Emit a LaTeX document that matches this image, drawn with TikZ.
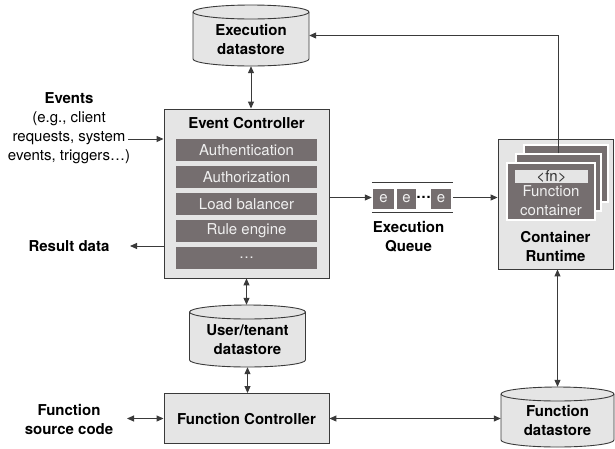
\documentclass[tikz,border=0pt]{standalone}
\usepackage{fontspec}
\setmainfont{TeX Gyre Heros}
\usetikzlibrary{arrows.meta,calc}
\definecolor{lightfill}{HTML}{E5E5E5}
\definecolor{darkbar}{HTML}{756E6F}
\definecolor{bartext}{HTML}{F0F0F0}
\definecolor{linegray}{HTML}{3A3A3A}
\newcommand\dbcyl[6]{%
 \draw[cylline] ({#2-#4},{#3-#5+7}) -- ({#2-#4},{#3+#5-7}) arc[start angle=180,end angle=360,x radius=#4pt,y radius=7pt] -- ({#2+#4},{#3-#5+7}) arc[start angle=0,end angle=180,x radius=#4pt,y radius=7pt] -- cycle;
 \draw[cylline, fill=none] ({#2-#4},{#3-#5+7}) arc[start angle=180,end angle=360,x radius=#4pt,y radius=7pt];
 \node[minimum width={2*#4}, minimum height={2*#5}, inner sep=0] (#1) at (#2,#3) {};
 \node[boldtext, align=center] (#1text) at ([yshift=-3.5pt]#1.center) {#6};
}
\begin{document}
\begin{tikzpicture}[x=1pt,y=-1pt,
  font=\fontsize{15}{19}\selectfont,
  boldtext/.style={font=\fontsize{15}{19}\selectfont\bfseries, inner sep=0},
  plaintext/.style={font=\fontsize{15}{19}\selectfont, inner sep=0},
  box/.style={draw=linegray, fill=lightfill, line width=0.9pt, inner sep=0},
  cylline/.style={draw=linegray, fill=lightfill, line width=0.9pt},
  bar/.style={fill=darkbar, text=bartext, minimum width=141, minimum height=22, inner sep=0},
  card/.style={fill=darkbar, draw=white, line width=1.3pt, inner sep=0},
  cell/.style={fill=darkbar, text=bartext, minimum height=20, inner sep=0},
  tip/.tip={Triangle[length=7pt,width=6pt]},
  conn/.style={draw=linegray, line width=1pt, -tip},
  dbl/.style={draw=linegray, line width=1pt, tip-tip},
  plain/.style={draw=linegray, line width=1pt}]
\useasboundingbox (0,0) rectangle (615,448);

% datastores
\dbcyl{xd}{251}{35.5}{58}{30.5}{Execution\\datastore}
\dbcyl{ut}{247.5}{336}{58}{31}{User/tenant\\datastore}
\dbcyl{fd}{557.5}{417}{56.5}{30}{Function\\datastore}

% Event controller
\node[box, minimum width=165, minimum height=169] (ec) at (246.5,193.5) {};
\node[boldtext] (ectitle) at (246.5,123) {Event Controller};
\node[bar] (b1) at (246.5,150) {Authentication};
\node[bar] (b2) at (246.5,177) {Authorization};
\node[bar] (b3) at (246.5,204) {Load balancer};
\node[bar] (b4) at (246.5,231) {Rule engine};
\node[bar] (b5) at (246.5,258) {…};

% Function controller
\node[box, minimum width=165, minimum height=50, font=\fontsize{15}{19}\selectfont\bfseries] (fc) at (246.5,418.5) {Function Controller};

% Container runtime
\node[box, minimum width=115, minimum height=130] (cr) at (555.5,204) {};
\node[card, minimum width=84, minimum height=57] (card3) at (566,173.5) {};
\node[card, minimum width=85, minimum height=57] (card2) at (558.5,182.5) {};
\draw[conn] (card2.north) |- (xd.east);
\node[card, minimum width=88, minimum height=57] (card1) at (551,191.5) {};
\node[fill=lightfill, minimum width=73, minimum height=13, inner sep=0, text=black!80] (fn) at (551.5,176.5) {<fn>};
\node[plaintext, text=bartext, align=center] (fclabel) at (551,201) {Function\\container};
\node[boldtext, align=center] (crlabel) at (555.5,246) {Container\\Runtime};

% Queue
\node[minimum width=81, minimum height=29, inner sep=0] (q) at (412.5,197.5) {};
\draw[plain] (q.north west) -- (q.north east);
\draw[plain] (q.south west) -- (q.south east);
\node[cell, minimum width=21] (e1) at (383.5,199) {e};
\node[cell, minimum width=19] (e2) at (406.5,199) {e};
\node[boldtext] (edots) at (423.5,197) {…};
\node[cell, minimum width=20] (e3) at (441,199) {e};
\node[boldtext, align=center] (qlabel) at (408.5,236.5) {Execution\\Queue};

% left labels
\node[plaintext, align=center] (events) at (69,128) {\textbf{Events}\\(e.g., client\\requests, system\\events, triggers…)};
\coordinate (evend) at (128,139);
\node[boldtext] (result) at (69,246) {Result data};
\coordinate (resend) at (130,246);
\node[boldtext, align=center] (src) at (69,419.5) {Function\\source code};
\coordinate (srcend) at (127,418.5);

% connectors
\draw[conn] (evend) -- (evend -| ec.west);
\draw[conn] (resend -| ec.west) -- (resend);
\draw[conn] (ec.east |- q.west) -- (q.west);
\draw[conn] (q.east) -- (q.east -| cr.west);
\draw[dbl] (xd.south) -- (xd.south |- ec.north);
\draw[dbl] (ec.south) -- (ec.south |- ut.north);
\draw[dbl] (ut.south) -- (ut.south |- fc.north);
\draw[dbl] (srcend) -- (fc.west);
\draw[dbl] (fc.east) -- (fc.east -| fd.west);
\draw[dbl] (fd.north |- cr.south) -- (fd.north);
\end{tikzpicture}
\end{document}
